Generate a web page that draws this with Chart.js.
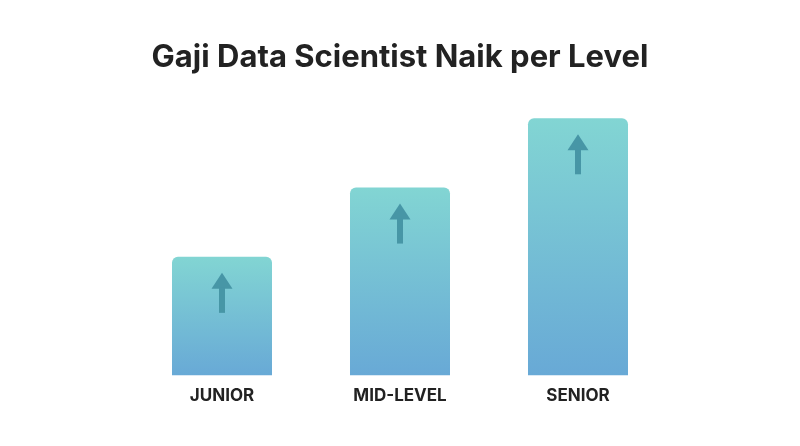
<!DOCTYPE html>
<html>
<head>
<meta charset="utf-8">
<script src="https://cdn.jsdelivr.net/npm/chart.js@4"></script>
<style>
  html, body { margin: 0; padding: 0; background: #ffffff; }
  #wrap { width: 800px; height: 446px; }
</style>
</head>
<body>
<div id="wrap"><canvas id="chart" width="800" height="446"></canvas></div>
<script>
// data (gaji, juta rupiah - perkiraan dari tinggi batang)
const levels = ['JUNIOR', 'MID-LEVEL', 'SENIOR'];
const salaries = [12, 19, 26];
const yMax = 30;

const colTop = '#82d5d3';
const colBottom = '#68a9d6';
const arrowColor = '#4796a6';

// panah di dalam tiap batang
const arrowPlugin = {
  id: 'arrows',
  afterDatasetsDraw(chart) {
    const ctx = chart.ctx;
    const meta = chart.getDatasetMeta(0);
    meta.data.forEach((bar) => {
      const x = bar.x;
      const top = bar.y + 16;
      ctx.save();
      ctx.fillStyle = arrowColor;
      ctx.beginPath();
      ctx.moveTo(x, top);
      ctx.lineTo(x + 10.5, top + 16);
      ctx.lineTo(x - 10.5, top + 16);
      ctx.closePath();
      ctx.fill();
      ctx.fillRect(x - 3, top + 15, 6, 25);
      ctx.restore();
    });
  }
};

const ctx = document.getElementById('chart').getContext('2d');
new Chart(ctx, {
  type: 'bar',
  data: {
    labels: levels,
    datasets: [{
      data: salaries,
      backgroundColor: (c) => {
        const chart = c.chart;
        if (!chart.chartArea || c.type !== 'data') return colTop;
        const y = chart.scales.y;
        const top = y.getPixelForValue(c.parsed.y);
        const bottom = y.getPixelForValue(0);
        const g = chart.ctx.createLinearGradient(0, top, 0, bottom);
        g.addColorStop(0, colTop);
        g.addColorStop(1, colBottom);
        return g;
      },
      borderRadius: { topLeft: 6, topRight: 6, bottomLeft: 0, bottomRight: 0 },
      borderSkipped: false,
      categoryPercentage: 1,
      barPercentage: 0.5618
    }]
  },
  options: {
    responsive: false,
    animation: false,
    layout: { padding: { left: 133, right: 133, top: 39.5, bottom: 30 } },
    plugins: {
      legend: { display: false },
      tooltip: { enabled: false },
      title: {
        display: true,
        text: 'Gaji Data Scientist Naik per Level',
        color: '#222222',
        font: { family: 'Inter, "Open Sans", sans-serif', size: 31, weight: 'bold' },
        padding: { top: 0, bottom: 2 }
      }
    },
    scales: {
      y: {
        display: false,
        min: 0,
        max: yMax
      },
      x: {
        grid: { display: false, drawTicks: false },
        border: { display: false },
        ticks: {
          color: '#222222',
          padding: 10,
          font: { family: 'Inter, "Open Sans", sans-serif', size: 17, weight: 'bold' }
        }
      }
    }
  },
  plugins: [arrowPlugin]
});
</script>
</body>
</html>
